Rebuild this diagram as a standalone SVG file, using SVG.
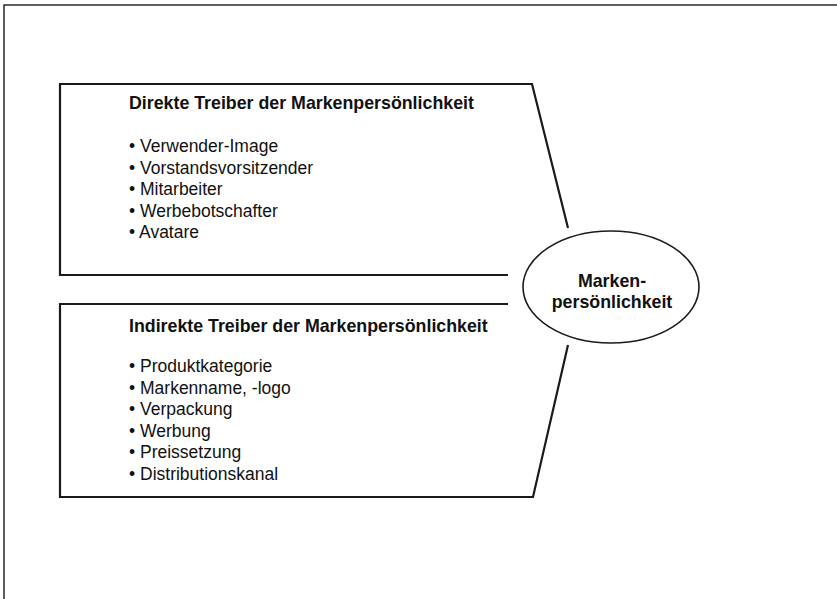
<svg xmlns="http://www.w3.org/2000/svg" width="837" height="599" viewBox="0 0 837 599">
  <style>
    .frame { fill: none; stroke: #2a2a2a; stroke-width: 1.5; }
    .box { fill: none; stroke: #1a1a1a; stroke-width: 2.2; stroke-linejoin: miter; }
    .title { font-family: "Liberation Sans", Arial, sans-serif; font-size: 17.8px; font-weight: bold; fill: #111; }
    .item { font-family: "Liberation Sans", Arial, sans-serif; font-size: 17.5px; fill: #111; }
    .center { font-family: "Liberation Sans", Arial, sans-serif; font-size: 17.8px; font-weight: bold; fill: #111; text-anchor: middle; }
  </style>
  <rect width="837" height="599" fill="#ffffff"/>
  <!-- page frame, open at right and bottom -->
  <path class="frame" d="M4,599 V5 H837"/>

  <g id="direkte-treiber">
    <path class="box" d="M508,275 H60 V84 H532 L568,228"/>
    <text class="title" x="129" y="109">Direkte Treiber der Markenpersönlichkeit</text>
    <text class="item" x="129" y="152">• Verwender-Image</text>
    <text class="item" x="129" y="173.5">• Vorstandsvorsitzender</text>
    <text class="item" x="129" y="195">• Mitarbeiter</text>
    <text class="item" x="129" y="216.5">• Werbebotschafter</text>
    <text class="item" x="129" y="238">• Avatare</text>
  </g>

  <g id="indirekte-treiber">
    <path class="box" d="M508,304 H60 V497 H533 L568,345"/>
    <text class="title" x="129" y="332">Indirekte Treiber der Markenpersönlichkeit</text>
    <text class="item" x="129" y="372">• Produktkategorie</text>
    <text class="item" x="129" y="393.5">• Markenname, -logo</text>
    <text class="item" x="129" y="415">• Verpackung</text>
    <text class="item" x="129" y="436.5">• Werbung</text>
    <text class="item" x="129" y="458">• Preissetzung</text>
    <text class="item" x="129" y="479.5">• Distributionskanal</text>
  </g>

  <g id="markenpersoenlichkeit">
    <ellipse cx="611" cy="287" rx="88" ry="56" fill="#ffffff" stroke="#1a1a1a" stroke-width="1.6"/>
    <text class="center" x="612" y="287">Marken-</text>
    <text class="center" x="612" y="308">persönlichkeit</text>
  </g>
</svg>
